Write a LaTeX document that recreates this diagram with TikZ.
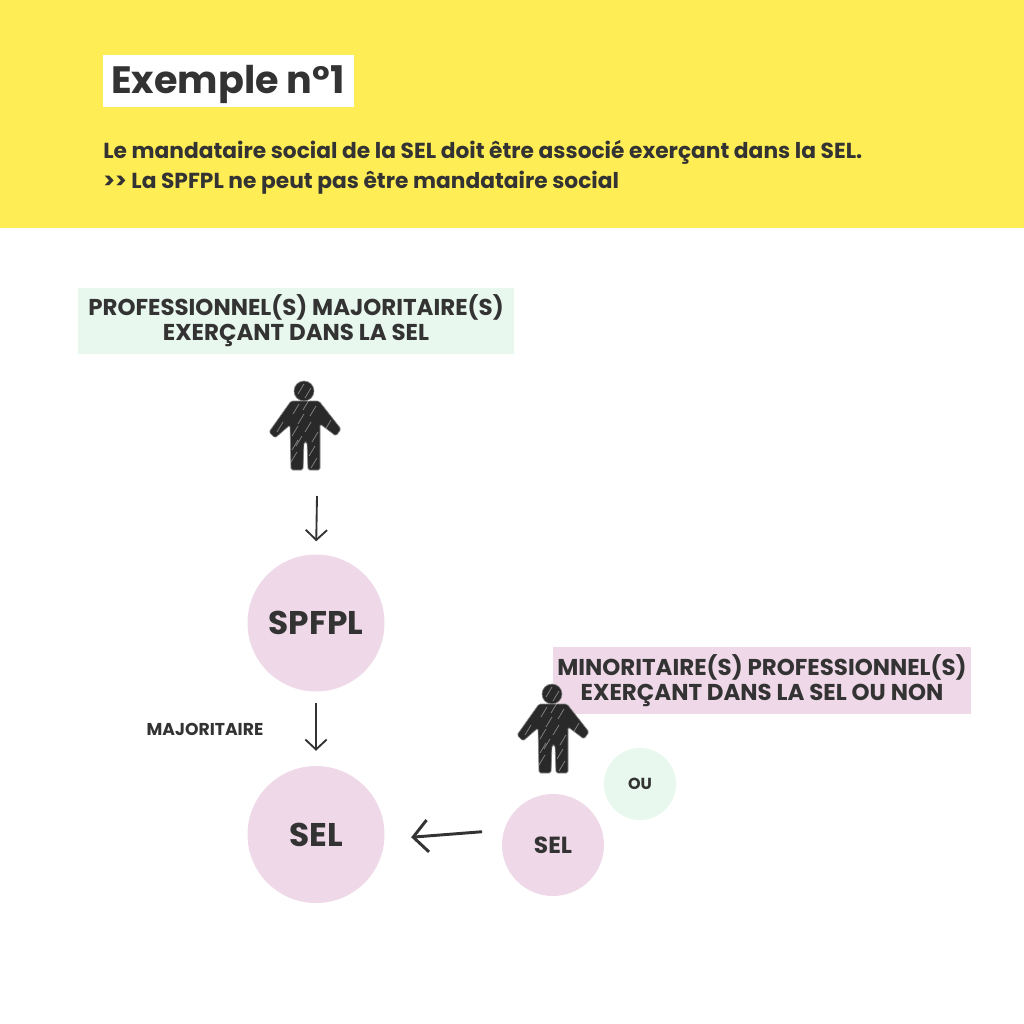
\documentclass[tikz,border=0pt]{standalone}
\usepackage{fontspec}
\setmainfont{Poppins}
\usetikzlibrary{positioning, arrows.meta}
\definecolor{ink}{HTML}{333333}
\definecolor{bandyellow}{HTML}{FFED55}
\definecolor{softpink}{HTML}{EFD9E8}
\definecolor{softgreen}{HTML}{E8F8EE}
\tikzset{
    round pink/.style={circle, fill=softpink, text=ink, inner sep=0pt, align=center, font=\bfseries},
    label pink/.style={rectangle, fill=softpink, text=ink, inner sep=0pt, align=center, font=\fontsize{17.2}{18.75}\selectfont\bfseries},
    label green/.style={rectangle, fill=softgreen, text=ink, inner sep=0pt, align=center, font=\fontsize{17.2}{18.75}\selectfont\bfseries},
    sketch/.style={draw=ink, line width=1.4pt, -{Straight Barb[length=7.5pt, width=16pt]}},
    person/.pic={
        \draw[ink!60, fill=ink!80!black, line width=0.5pt] (0,0) circle (10);
        \draw[ink!60, fill=ink!80!black, line width=0.5pt, rounded corners=1.2pt] (-13,10) -- (15,10) -- (37,38) -- (32,45) -- (16,33) -- (16,79) -- (4,79) -- (3,51) -- (0,51) -- (-1,79) -- (-13,79) -- (-14,34) -- (-29,47) -- (-35,41) -- cycle;
        \foreach \a/\b in {-9/40, -3/28, 4/36, 9/20, -10/66, 8/60, 24/34, -24/36, -5/50, 11/46, -8/18, 2/14, 10/72, -9/54, -3/-2, 4/2}
            \draw[white, opacity=0.4, line width=0.6pt] (\a-3,\b+5) -- (\a+3,\b-5);
    },
}
\begin{document}
\begin{tikzpicture}[x=0.75pt, y=-0.75pt]
\useasboundingbox (0,0) rectangle (1024,1024);
\fill[bandyellow] (0,0) rectangle (1024,228);
% header
\node[fill=white, text=ink, minimum width=188.25pt, minimum height=39pt, inner sep=0pt, text height=18.8pt, text depth=0pt, font=\fontsize{28.6}{32}\selectfont\bfseries] (titre) at (228,81) {Exemple n°1};
\node[anchor=north west, text=ink, inner sep=0pt, align=left, font=\fontsize{16.3}{22.5}\selectfont\bfseries] (intro) at (103,140) {Le mandataire social de la SEL doit être associé exerçant dans la SEL.\\>{}> La SPFPL ne peut pas être mandataire social};
% left column
\node[label green, minimum width=327pt, minimum height=49.5pt] (majo) at (296,321) {PROFESSIONNEL(S) MAJORITAIRE(S)\\EXERÇANT DANS LA SEL};
\pic at (304,391) {person};
\coordinate (depart) at (317,496);
\node[round pink, minimum size=102.75pt, font=\fontsize{24.6}{28}\selectfont\bfseries] (spfpl) at (316,623) {SPFPL};
\node[round pink, minimum size=102.75pt, font=\fontsize{24.6}{28}\selectfont\bfseries, below=55.5pt of spfpl] (sel) {SEL};
\node[text=ink, inner sep=0pt, font=\fontsize{12.9}{15}\selectfont\bfseries] (part) at (205,729) {MAJORITAIRE};
% right group
\node[label pink, minimum width=313.5pt, minimum height=50.25pt] (mino) at (762,680.5) {MINORITAIRE(S) PROFESSIONNEL(S)\\EXERÇANT DANS LA SEL OU NON};
\pic at (552,694) {person};
\node[round pink, minimum size=76.5pt, font=\fontsize{17.5}{20}\selectfont\bfseries] (petite) at (553,845) {SEL};
\node[circle, fill=softgreen, text=ink, inner sep=0pt, minimum size=54pt, font=\fontsize{12}{14}\selectfont\bfseries] (ou) at (640,784) {OU};
% arrows
\draw[sketch, shorten >=9.75pt] (depart) -- (spfpl.north);
\draw[sketch, shorten <=8.25pt, shorten >=11.25pt] (spfpl) -- (sel);
\draw[sketch, line width=2.2pt, -{Straight Barb[length=11pt, width=24pt]}, shorten <=16.5pt, shorten >=20pt] (petite.163) -- (sel.-4);
\end{tikzpicture}
\end{document}
